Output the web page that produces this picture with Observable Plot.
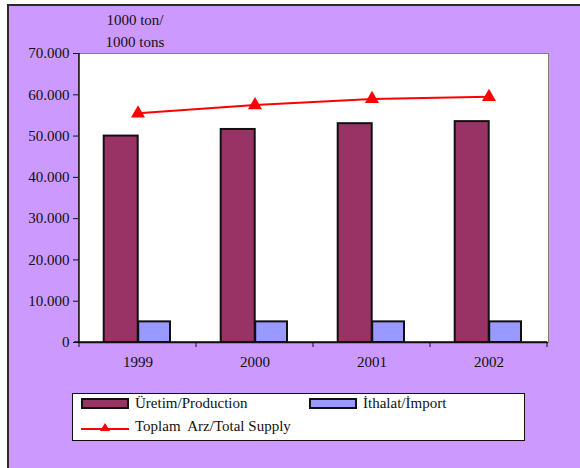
<!DOCTYPE html>
<html><head><meta charset="utf-8">
<script src="https://cdn.jsdelivr.net/npm/d3@7"></script>
<script src="https://cdn.jsdelivr.net/npm/@observablehq/plot@0.6"></script>
<style>
body{margin:0;background:#fff;font-family:"Liberation Serif","Times New Roman",serif;color:#111;}
#wrap{position:relative;width:580px;height:468px;overflow:hidden;}
#bg{position:absolute;left:7px;top:4px;width:600px;height:500px;background:#CC99FF;border-left:2px solid #2a2a2a;border-top:2px solid #2a2a2a;}
#chart{position:absolute;left:0;top:0;}
.unit{position:absolute;left:95px;width:80px;text-align:center;font-size:15px;line-height:15px;}
#legend{position:absolute;left:72px;top:393px;width:451px;height:46px;background:#fff;border:1px solid #111;font-size:15px;}
.item{position:absolute;display:flex;align-items:center;white-space:nowrap;}
.sw{width:44px;height:7px;border:2px solid #111;margin-right:6px;}
</style></head>
<body>
<div id="wrap">
  <div id="bg"></div>
  <div id="chart"></div>
  <div class="unit" id="u1" style="top:13px"></div>
  <div class="unit" id="u2" style="top:35px"></div>
  <div id="legend"></div>
</div>
<script>
const years = ["1999", "2000", "2001", "2002"];
const production = [50000, 51600, 53000, 53500];
const imports = [5000, 5000, 5000, 5000];
const totalSupply = [55500, 57500, 59000, 59500];
const yTicks = [0, 10000, 20000, 30000, 40000, 50000, 60000, 70000];
const unitLines = ["1000 ton/", "1000 tons"];
const seriesNames = ["Üretim/Production", "İthalat/İmport", "Toplam  Arz/Total Supply"];
const colors = ["#993366", "#9999FF", "#FF0000"];

const rows = years.map((y, i) => ({year: y, production: production[i], imports: imports[i], total: totalSupply[i]}));
const fmt = d => d === 0 ? "0" : d3.format(",")(d).replace(/,/g, ".");

const chart = Plot.plot({
  width: 580,
  height: 380,
  marginLeft: 78,
  marginRight: 32,
  marginTop: 53,
  marginBottom: 38,
  style: {background: "transparent", fontFamily: "'Liberation Serif','Times New Roman',serif", fontSize: "15px", color: "#111"},
  x: {domain: years, padding: 0},
  y: {domain: [0, 70000]},
  marks: [
    Plot.frame({fill: "white", stroke: "#808080"}),
    Plot.axisY({ticks: yTicks, tickFormat: fmt, tickSize: 5, tickPadding: 4, label: null, stroke: "#111"}),
    Plot.axisX({tickSize: 0, tickPadding: 14, label: null}),
    Plot.barY(rows, {x: "year", y: "production", fill: colors[0], stroke: "#111", strokeWidth: 2, insetLeft: 24.7, insetRight: 58.3}),
    Plot.barY(rows, {x: "year", y: "imports", fill: colors[1], stroke: "#111", strokeWidth: 2, insetLeft: 59.2, insetRight: 26}),
    Plot.ruleY([0], {stroke: "#111", strokeWidth: 1.5}),
    Plot.lineY(rows, {x: "year", y: "total", stroke: colors[2], strokeWidth: 2}),
    Plot.dot(rows, {x: "year", y: "total", symbol: "triangle", r: 5.2, fill: colors[2], stroke: "none"})
  ]
});

// axis line on the left and boundary ticks on x axis
const xs = chart.scale("x"), ys = chart.scale("y");
const svg = d3.select(chart);
const y0 = ys.apply(0), yTop = ys.apply(70000);
const x0 = xs.apply(years[0]);
svg.append("line").attr("x1", x0).attr("x2", x0).attr("y1", yTop).attr("y2", y0).attr("stroke", "#111").attr("stroke-width", 1.5);
const bounds = years.map(y => xs.apply(y)).concat([xs.apply(years[years.length - 1]) + xs.bandwidth]);
bounds.forEach(b => svg.append("line").attr("x1", b).attr("x2", b).attr("y1", y0).attr("y2", y0 + 5).attr("stroke", "#111").attr("stroke-width", 1));
svg.append("line").attr("x1", x0 - 5).attr("x2", bounds[bounds.length-1]).attr("y1", y0).attr("y2", y0).attr("stroke", "#111").attr("stroke-width", 1.5);

document.getElementById("chart").appendChild(chart);
document.getElementById("u1").textContent = unitLines[0];
document.getElementById("u2").textContent = unitLines[1];

// legend
const lg = document.getElementById("legend");
function item(left, top, swatchHtml, label) {
  const d = document.createElement("div");
  d.className = "item";
  d.style.left = left + "px"; d.style.top = top + "px";
  d.innerHTML = swatchHtml + "<span>" + label + "</span>";
  lg.appendChild(d);
}
item(8, 1, `<div class="sw" style="background:${colors[0]}"></div>`, seriesNames[0]);
item(236, 1, `<div class="sw" style="background:${colors[1]}"></div>`, seriesNames[1]);
item(8, 24, `<svg width="50" height="14" style="margin-right:4px"><line x1="0" x2="48" y1="9" y2="9" stroke="${colors[2]}" stroke-width="2"/><path d="M24,3 L29,11 L19,11 Z" fill="${colors[2]}"/></svg>`, seriesNames[2].replace(/ /g, "&nbsp;").replace("&nbsp;&nbsp;", "&nbsp; "));
</script>
</body></html>
